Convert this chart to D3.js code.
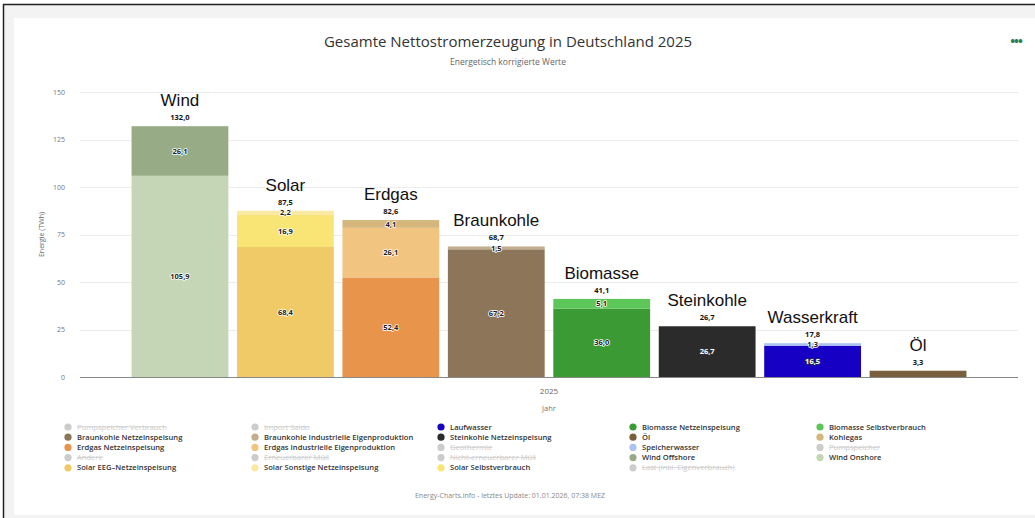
<!DOCTYPE html>
<html>
<head>
<meta charset="utf-8">
<script src="https://cdn.jsdelivr.net/npm/d3@7"></script>
<style>
  html, body { margin: 0; padding: 0; background: #fff; }
  svg { display: block; }
</style>
</head>
<body>
<div id="chart"></div>
<script>
const width = 1035;
const height = 518;
const margin = { top: 92, right: 17, bottom: 141, left: 80 };

// Data (TWh, Germany 2025)
const groups = ["Wind", "Solar", "Erdgas", "Braunkohle", "Biomasse", "Steinkohle", "Wasserkraft", "Öl"];
const windNames = ["Wind Onshore", "Wind Offshore"];
const windValues = [105.9, 26.1];
const solarNames = ["Solar EEG-Netzeinspeisung", "Solar Selbstverbrauch", "Solar Sonstige Netzeinspeisung"];
const solarValues = [68.4, 16.9, 2.2];
const erdgasNames = ["Erdgas Netzeinspeisung", "Erdgas Industrielle Eigenproduktion", "Kohlegas"];
const erdgasValues = [52.4, 26.1, 4.1];
const braunkohleNames = ["Braunkohle Netzeinspeisung", "Braunkohle Industrielle Eigenproduktion"];
const braunkohleValues = [67.2, 1.5];
const biomasseNames = ["Biomasse Netzeinspeisung", "Biomasse Selbstverbrauch"];
const biomasseValues = [36.0, 5.1];
const steinkohleNames = ["Steinkohle Netzeinspeisung"];
const steinkohleValues = [26.7];
const wasserNames = ["Laufwasser", "Speicherwasser"];
const wasserValues = [16.5, 1.3];
const oelNames = ["Öl"];
const oelValues = [3.3];

const yTicks = [0, 25, 50, 75, 100, 125, 150];

const legendNames = [
    "Pumpspeicher Verbrauch", "Import Saldo", "Laufwasser", "Biomasse Netzeinspeisung", "Biomasse Selbstverbrauch",
    "Braunkohle Netzeinspeisung", "Braunkohle Industrielle Eigenproduktion", "Steinkohle Netzeinspeisung", "Öl", "Kohlegas",
    "Erdgas Netzeinspeisung", "Erdgas Industrielle Eigenproduktion", "Geothermie", "Speicherwasser", "Pumpspeicher",
    "Andere", "Erneuerbarer Müll", "Nicht-erneuerbarer Müll", "Wind Offshore", "Wind Onshore",
    "Solar EEG–Netzeinspeisung", "Solar Sonstige Netzeinspeisung", "Solar Selbstverbrauch", "Last (inkl. Eigenverbrauch)"
];
const legendHidden = ["Pumpspeicher Verbrauch", "Import Saldo", "Geothermie", "Pumpspeicher", "Andere",
    "Erneuerbarer Müll", "Nicht-erneuerbarer Müll", "Last (inkl. Eigenverbrauch)"];

const colors = {
    "Wind Onshore": "#c4d6b5",
    "Wind Offshore": "#97ac86",
    "Solar EEG-Netzeinspeisung": "#f0ca67",
    "Solar EEG–Netzeinspeisung": "#f0ca67",
    "Solar Selbstverbrauch": "#f8e576",
    "Solar Sonstige Netzeinspeisung": "#f9e9a2",
    "Erdgas Netzeinspeisung": "#e8944b",
    "Erdgas Industrielle Eigenproduktion": "#f1c57f",
    "Kohlegas": "#d5b67c",
    "Braunkohle Netzeinspeisung": "#8c7558",
    "Braunkohle Industrielle Eigenproduktion": "#c2ad8d",
    "Biomasse Netzeinspeisung": "#3c9a35",
    "Biomasse Selbstverbrauch": "#5cc658",
    "Steinkohle Netzeinspeisung": "#2b2b2b",
    "Laufwasser": "#1600c4",
    "Speicherwasser": "#aac3f2",
    "Öl": "#7a5f3e"
};

const groupNames = [windNames, solarNames, erdgasNames, braunkohleNames, biomasseNames, steinkohleNames, wasserNames, oelNames];
const groupValues = [windValues, solarValues, erdgasValues, braunkohleValues, biomasseValues, steinkohleValues, wasserValues, oelValues];

const fmt = v => d3.format(".1f")(v).replace(".", ",");

const svg = d3.select("#chart").append("svg")
    .attr("width", width)
    .attr("height", height)
    .style("font-family", "'Open Sans', sans-serif");

// frame + card
svg.append("rect").attr("x", 3).attr("y", 4).attr("width", width - 3).attr("height", height - 4).attr("fill", "#f3f3f3");
svg.append("rect").attr("x", 14).attr("y", 18).attr("width", width - 14).attr("height", 497).attr("fill", "#fff");
svg.append("line").attr("x1", 3).attr("x2", width).attr("y1", 4.5).attr("y2", 4.5).attr("stroke", "#222").attr("stroke-width", 1.5);
svg.append("line").attr("x1", 3.5).attr("x2", 3.5).attr("y1", 4).attr("y2", height).attr("stroke", "#222").attr("stroke-width", 1.5);

// title
svg.append("text")
    .attr("x", 508).attr("y", 47)
    .attr("text-anchor", "middle")
    .attr("fill", "#333")
    .style("font-size", "15px")
    .text("Gesamte Nettostromerzeugung in Deutschland 2025");

svg.append("text")
    .attr("x", 508).attr("y", 65)
    .attr("text-anchor", "middle")
    .attr("fill", "#666")
    .style("font-size", "8.5px")
    .text("Energetisch korrigierte Werte");

svg.append("text")
    .attr("x", 1016).attr("y", 46)
    .attr("text-anchor", "middle")
    .attr("fill", "#2f7d5b")
    .style("font-size", "13px")
    .style("font-weight", "bold")
    .style("letter-spacing", "-1px")
    .text("•••");

// scales
const x0 = d3.scaleBand()
    .domain(["2025"])
    .range([margin.left, width - margin.right]);

const x1 = d3.scaleBand()
    .domain(groups)
    .range([x0("2025"), x0("2025") + x0.bandwidth()])
    .paddingInner(0.082)
    .paddingOuter(0.489);

const y = d3.scaleLinear()
    .domain([0, 150])
    .range([height - margin.bottom - 0, margin.top]);

// grid
svg.append("g")
    .selectAll("line")
    .data(yTicks.filter(d => d > 0))
    .join("line")
    .attr("x1", margin.left).attr("x2", width - margin.right)
    .attr("y1", d => Math.round(y(d)) + 0.5).attr("y2", d => Math.round(y(d)) + 0.5)
    .attr("stroke", "#ececec");

// y axis
const yAxis = svg.append("g")
    .attr("transform", `translate(${margin.left - 12},0)`)
    .call(d3.axisLeft(y).tickValues(yTicks).tickSize(0).tickFormat(d3.format("d")));
yAxis.select(".domain").remove();
yAxis.selectAll("text")
    .attr("fill", "#777")
    .style("font-size", "7px")
    .style("font-family", "'Open Sans', sans-serif");

svg.append("text")
    .attr("transform", `translate(44, ${y(75)}) rotate(-90)`)
    .attr("text-anchor", "middle")
    .attr("fill", "#666")
    .style("font-size", "7px")
    .text("Energie (TWh)");

// bars
const barG = svg.append("g");
groups.forEach((g, i) => {
    const names = groupNames[i];
    const vals = groupValues[i];
    const ends = Array.from(d3.cumsum(vals));
    const segs = vals.map((v, j) => ({ name: names[j], value: v, y0: ends[j] - v, y1: ends[j] }));
    const total = d3.sum(vals);
    const bx = x1(g);
    const bw = x1.bandwidth();

    barG.selectAll(null)
        .data(segs)
        .join("rect")
        .attr("x", bx)
        .attr("width", bw)
        .attr("y", d => y(d.y1))
        .attr("height", d => y(d.y0) - y(d.y1))
        .attr("fill", d => colors[d.name]);

    // segment labels
    barG.selectAll(null)
        .data(segs.filter(d => !(segs.length === 1 && y(d.y0) - y(d.y1) < 12)))
        .join("text")
        .attr("x", bx + bw / 2)
        .attr("y", d => (y(d.y0) + y(d.y1)) / 2)
        .attr("dy", "0.35em")
        .attr("text-anchor", "middle")
        .style("font-size", "7.5px")
        .style("font-weight", "bold")
        .style("paint-order", "stroke")
        .attr("stroke-width", 1.6)
        .attr("stroke-linejoin", "round")
        .each(function(d) {
            const c = d3.hsl(colors[d.name]);
            const dark = c.l < 0.4;
            d3.select(this)
                .attr("fill", dark ? "#fff" : "#222")
                .attr("stroke", dark ? "#333" : "#fff");
        })
        .text(d => fmt(d.value));

    // total
    barG.append("text")
        .attr("x", bx + bw / 2)
        .attr("y", y(total) - 6)
        .attr("text-anchor", "middle")
        .attr("fill", "#111")
        .style("font-size", "7.5px")
        .style("font-weight", "bold")
        .text(fmt(total));

    // group name
    barG.append("text")
        .attr("x", bx + bw / 2)
        .attr("y", y(total) - 20)
        .attr("text-anchor", "middle")
        .attr("fill", "#111")
        .style("font-family", "'Liberation Sans', Arial, sans-serif")
        .style("font-size", "17px")
        .text(g);
});

// baseline
svg.append("line")
    .attr("x1", margin.left).attr("x2", width - margin.right)
    .attr("y1", y(0) + 0.5).attr("y2", y(0) + 0.5)
    .attr("stroke", "#888");

// x axis
const xAxis = svg.append("g")
    .attr("transform", `translate(0,${y(0) + 8})`)
    .call(d3.axisBottom(x0).tickSize(0));
xAxis.select(".domain").remove();
xAxis.selectAll("text")
    .attr("fill", "#666")
    .style("font-size", "8px")
    .style("font-family", "'Open Sans', sans-serif");

svg.append("text")
    .attr("x", x0("2025") + x0.bandwidth() / 2)
    .attr("y", 411)
    .attr("text-anchor", "middle")
    .attr("fill", "#777")
    .style("font-size", "7.5px")
    .text("Jahr");

// legend
const colX = [68, 255, 441, 633, 820];
const rowY0 = 427;
const rowH = 10.2;
const legend = svg.append("g")
    .selectAll("g")
    .data(legendNames)
    .join("g")
    .attr("transform", (d, i) => `translate(${colX[i % 5]},${rowY0 + Math.floor(i / 5) * rowH})`);

legend.append("circle")
    .attr("r", 3.6)
    .attr("fill", d => legendHidden.includes(d) ? "#cccccc" : colors[d]);

legend.append("text")
    .attr("x", 9)
    .attr("dy", "0.33em")
    .attr("fill", d => legendHidden.includes(d) ? "#cccccc" : "#333")
    .style("text-decoration", d => legendHidden.includes(d) ? "line-through" : null)
    .style("font-size", "7.6px")
    .style("font-weight", d => legendHidden.includes(d) ? null : "600")
    .text(d => d);

// credits
svg.append("text")
    .attr("x", 510).attr("y", 498)
    .attr("text-anchor", "middle")
    .attr("fill", "#888")
    .style("font-size", "7px")
    .text("Energy-Charts.info - letztes Update: 01.01.2026, 07:38 MEZ");
</script>
</body>
</html>
